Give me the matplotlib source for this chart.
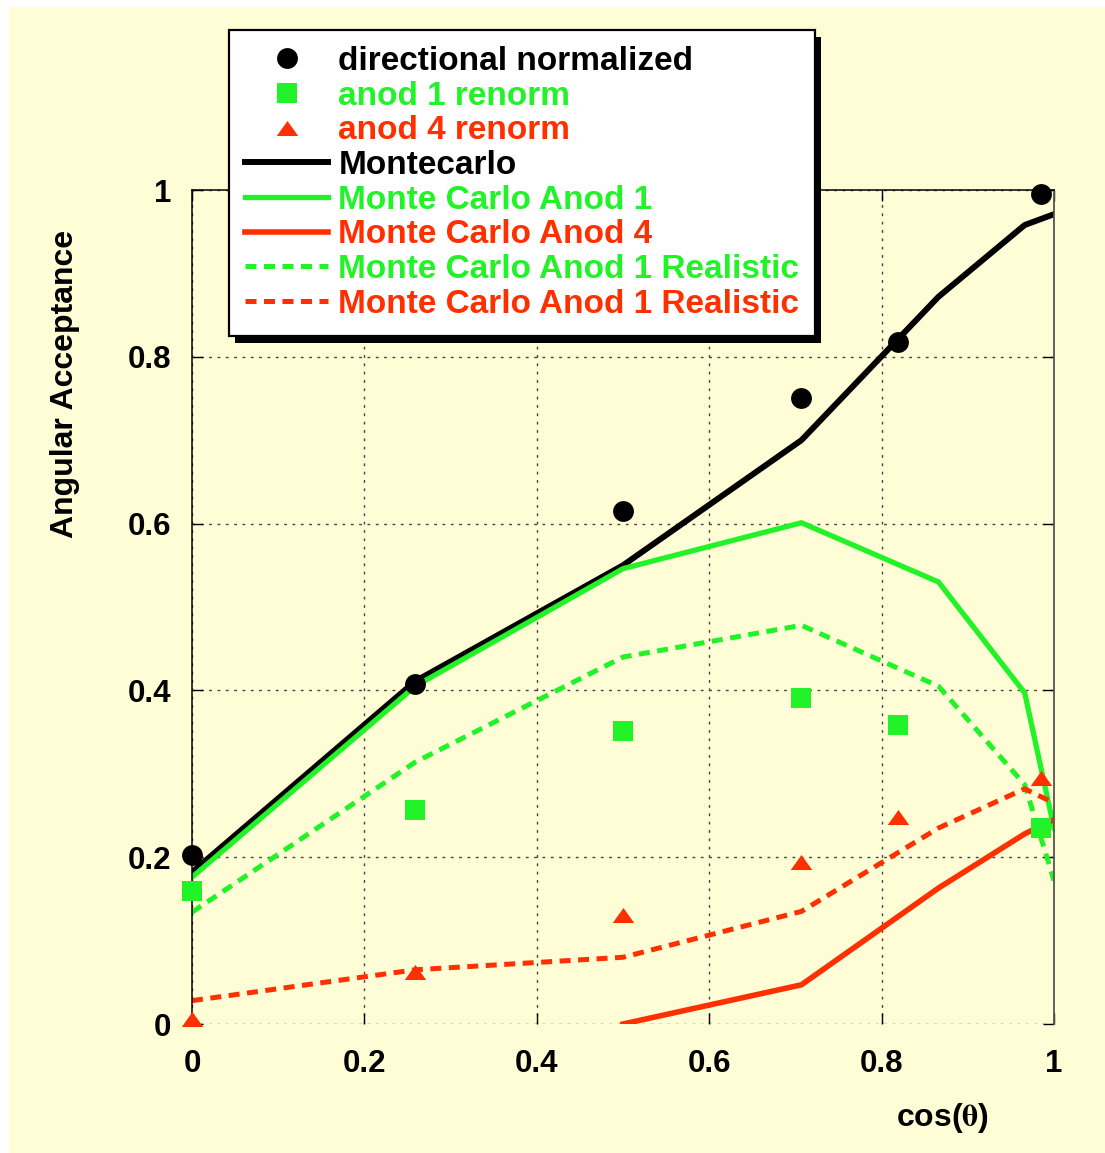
import numpy as np
import matplotlib
matplotlib.use("Agg")
import matplotlib.pyplot as plt
from matplotlib.patches import Rectangle

plt.rcParams['font.family'] = ['Liberation Sans', 'DejaVu Sans']
plt.rcParams['font.weight'] = 'bold'
plt.rcParams['mathtext.fontset'] = 'stix'

GREEN = '#22F228'
RED = '#FF3000'
BG = '#FFFDD6'

# measured points (cos theta)
x_pts = [0.0, 0.259, 0.5, 0.707, 0.819, 0.985]
dir_norm = [0.203, 0.408, 0.615, 0.751, 0.818, 0.995]
anod1_renorm = [0.159, 0.257, 0.351, 0.391, 0.359, 0.235]
anod4_renorm = [0.006, 0.062, 0.131, 0.194, 0.248, 0.295]

# monte carlo curves
mc_x = [0.0, 0.259, 0.5, 0.707, 0.866, 0.966, 1.0]
mc_all = [0.182, 0.411, 0.550, 0.700, 0.872, 0.958, 0.971]
mc_anod1 = [0.176, 0.405, 0.546, 0.601, 0.530, 0.397, 0.235]
mc_anod4 = [np.nan, np.nan, 0.0, 0.047, 0.163, 0.228, 0.245]
mc_anod1_real = [0.134, 0.314, 0.440, 0.478, 0.405, 0.287, 0.172]
mc_anod4_real = [0.028, 0.065, 0.080, 0.135, 0.235, 0.282, 0.265]

W, H = 1105, 1153
fig = plt.figure(figsize=(W / 100, H / 100), dpi=100)
fig.patch.set_facecolor('white')
fig.patches.append(Rectangle((9 / W, 0), 1, 1 - 7 / H, transform=fig.transFigure,
                             facecolor=BG, edgecolor='none', zorder=-10))

ax = fig.add_axes([192 / W, 1 - 1024 / H, (1054 - 192) / W, (1024 - 190) / H])
ax.set_facecolor('none')

tri = [(-1, -0.7), (1, -0.7), (0, 0.7)]
dash = (0, (2.2, 1.5))

l_mc, = ax.plot(mc_x, mc_all, color='black', lw=4.3, zorder=2)
l_mc1, = ax.plot(mc_x, mc_anod1, color=GREEN, lw=3.8, zorder=2)
l_mc4, = ax.plot(mc_x, mc_anod4, color=RED, lw=4.0, zorder=2)
l_r1, = ax.plot(mc_x, mc_anod1_real, color=GREEN, lw=3.6, ls=dash, zorder=2)
l_r4, = ax.plot(mc_x, mc_anod4_real, color=RED, lw=3.6, ls=dash, zorder=2)

p_dir, = ax.plot(x_pts, dir_norm, 'o', color='black', ms=15, mew=0, zorder=3, clip_on=False)
p_a1, = ax.plot(x_pts, anod1_renorm, 's', color=GREEN, ms=15, mew=0, zorder=3, clip_on=False)
p_a4, = ax.plot(x_pts, anod4_renorm, marker=tri, ls='none', color=RED, ms=15.5, mew=0,
                zorder=4, clip_on=False)

ax.set_xlim(0, 1)
ax.set_ylim(0, 1)
ax.set_xticks([0, 0.2, 0.4, 0.6, 0.8, 1])
ax.set_yticks([0, 0.2, 0.4, 0.6, 0.8, 1])
ax.set_xticklabels(['0', '0.2', '0.4', '0.6', '0.8', '1'])
ax.set_yticklabels(['0', '0.2', '0.4', '0.6', '0.8', '1'])
ax.grid(True, color='#444444', lw=1.0, ls=(0, (2, 4)))
ax.tick_params(direction='in', top=True, right=True, length=8, width=1,
               labelsize=22.5)
ax.tick_params(axis='x', pad=18)
ax.tick_params(axis='y', pad=15)
for lab in ax.get_xticklabels() + ax.get_yticklabels():
    lab.set_fontweight('bold')
ax.spines['bottom'].set_visible(False)
ax.spines['left'].set_linewidth(1.1)
ax.spines['top'].set_linewidth(1.1)
ax.spines['right'].set_linewidth(1.3)
ax.spines['right'].set_color('#555555')

fig.text(65 / W, 1 - 384 / H, 'Angular Acceptance', rotation=90, ha='center', va='center',
         fontsize=23, fontweight='bold')
fig.text(942 / W, 1 - 1118 / H, r'cos($\mathrm{\theta}$)', ha='center', va='center',
         fontsize=23, fontweight='bold')

handles = [p_dir, p_a1, p_a4, l_mc, l_mc1, l_mc4, l_r1, l_r4]
labels = ['directional normalized', 'anod 1 renorm', 'anod 4 renorm', 'Montecarlo',
          'Monte Carlo Anod 1', 'Monte Carlo Anod 4', 'Monte Carlo Anod 1 Realistic',
          'Monte Carlo Anod 1 Realistic']
colors = ['black', GREEN, RED, 'black', GREEN, RED, GREEN, RED]
leg = ax.legend(handles, labels, loc='upper left', bbox_to_anchor=(229 / W, 1 - 30 / H),
                bbox_transform=fig.transFigure, borderaxespad=0,
                prop={'weight': 'bold', 'size': 24}, numpoints=1, handlelength=2.5,
                handletextpad=0.3, labelspacing=0.11, borderpad=0.48, fancybox=False,
                framealpha=1, edgecolor='black', facecolor='white')
leg.get_frame().set_linewidth(1.6)
leg.set_zorder(6)
for t, c in zip(leg.get_texts(), colors):
    t.set_color(c)

# black drop shadow behind the legend box, offset a few pixels right/down
fig.canvas.draw()
bb = leg.get_window_extent()
ax.add_artist(Rectangle(((bb.x0 + 6) / W, (bb.y0 - 7) / H), bb.width / W, bb.height / H,
                        transform=fig.transFigure, facecolor='black', edgecolor='none',
                        zorder=5.9, clip_on=False))

fig.savefig('out.png', dpi=100, facecolor=fig.get_facecolor())
